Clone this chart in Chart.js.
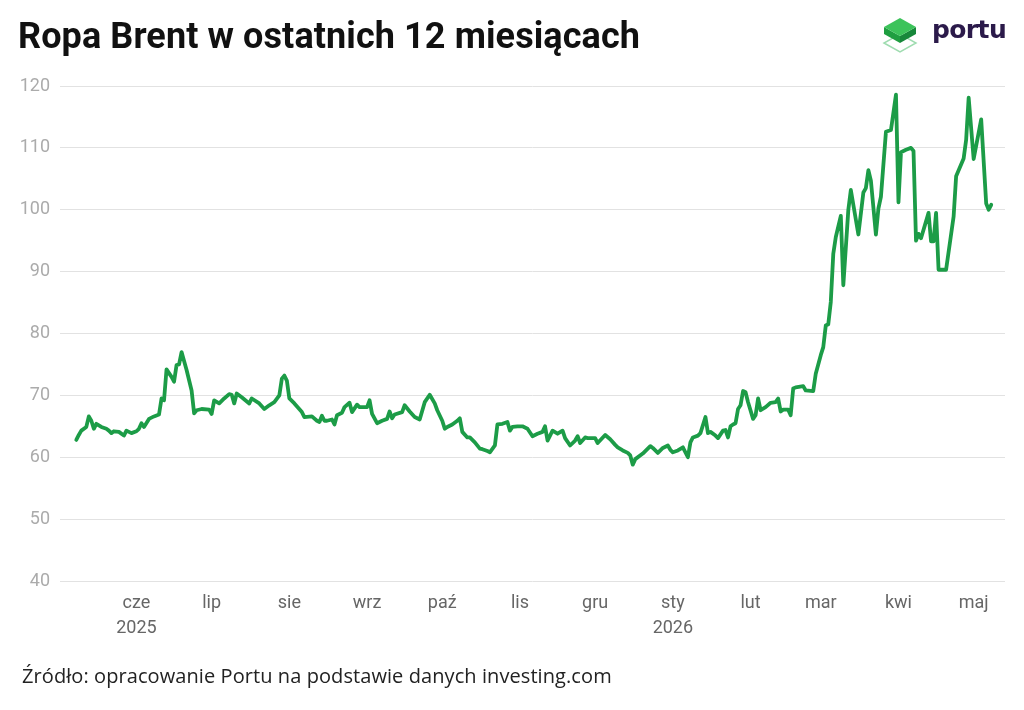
<!DOCTYPE html>
<html lang="pl">
<head>
<meta charset="utf-8">
<script src="https://cdn.jsdelivr.net/npm/chart.js@4.4.1/dist/chart.umd.min.js"></script>
<style>
  html, body { margin: 0; padding: 0; background: #fff; }
  body { width: 1024px; height: 710px; position: relative; overflow: hidden; }
  #wrap { position: absolute; left: 0; top: 0; width: 1024px; height: 710px; }
  h1 { position: absolute; left: 18px; top: 18px; margin: 0; font: 700 36px/1 Roboto, sans-serif; color: #111; letter-spacing: 0.1px; }
  .logo { position: absolute; left: 880px; top: 12px; }
  .logo span { position: absolute; left: 52px; top: 5px; font: 700 25px/1 "DejaVu Sans", sans-serif; color: #2b1a4a; letter-spacing: -0.6px; }
  .src { position: absolute; left: 22px; top: 666px; margin: 0; font: 20px/1 "Open Sans", sans-serif; color: #222; letter-spacing: 0.08px; }
</style>
</head>
<body>
<div id="wrap"><canvas id="brent"></canvas></div>
<h1>Ropa Brent w ostatnich 12 miesiącach</h1>
<div class="logo">
  <svg width="48" height="50" viewBox="0 0 48 50">
    <polygon points="4,31 20,40 36,31 20,22" fill="none" stroke="#9fdcb0" stroke-width="1.5"/>
    <polygon points="4,15 20,24 20,31 4,22" fill="#1f9e40"/>
    <polygon points="20,24 36,15 36,22 20,31" fill="#17873a"/>
    <polygon points="4,15 20,6 36,15 20,24" fill="#3cc35a"/>
  </svg>
  <span>portu</span>
</div>
<p class="src">Źródło: opracowanie Portu na podstawie danych investing.com</p>
<script>
// days counted from 8 May 2025
const days = [
  0, 1, 2, 4, 5, 6, 7, 8, 10, 12,
  13, 14, 15, 17, 19, 20, 22, 24, 25, 26,
  27, 29, 31, 33, 34, 35, 36, 38, 39, 40,
  41, 42, 44, 46, 47, 48, 50, 53, 54, 55,
  57, 59, 61, 62, 63, 64, 66, 69, 70, 73,
  75, 77, 79, 81, 82, 83, 84, 85, 87, 90,
  91, 94, 96, 97, 98, 99, 100, 102, 103, 104,
  106, 107, 109, 110, 112, 113, 116, 117, 118, 120,
  122, 124, 125, 126, 127, 130, 131, 133, 135, 137,
  139, 141, 143, 144, 146, 147, 148, 150, 152, 153,
  154, 156, 157, 159, 161, 162, 164, 165, 167, 168,
  170, 172, 173, 174, 176, 178, 180, 182, 184, 186,
  187, 188, 190, 192, 194, 195, 197, 199, 200, 201,
  203, 204, 207, 208, 211, 213, 215, 216, 218, 220,
  221, 222, 223, 226, 228, 229, 230, 232, 234, 236,
  237, 238, 240, 242, 244, 245, 246, 248, 249, 251,
  252, 253, 255, 256, 258, 259, 260, 261, 262, 263,
  264, 265, 266, 267, 268, 270, 271, 272, 273, 275,
  277, 279, 280, 281, 282, 284, 285, 286, 287, 290,
  291, 294, 295, 297, 298, 299, 300, 301, 302, 303,
  305, 306, 308, 309, 312, 314, 315, 316, 317, 319,
  320, 321, 323, 325, 327, 328, 329, 331, 333, 334,
  335, 336, 337, 340, 341, 342, 343, 344, 347, 350,
  351, 354, 355, 356, 358, 361, 363, 364, 365
];
// Brent, USD per barrel
const prices = [
  62.8, 63.6, 64.3, 64.9, 66.6, 65.9, 64.6, 65.4, 64.9, 64.6,
  64.3, 63.9, 64.2, 64.1, 63.5, 64.3, 63.9, 64.2, 64.6, 65.5,
  64.9, 66.2, 66.6, 66.9, 69.5, 69.2, 74.2, 73.0, 72.2, 74.9,
  75.0, 77.0, 74.1, 70.8, 67.1, 67.6, 67.8, 67.7, 67.0, 69.2,
  68.7, 69.5, 70.2, 70.1, 68.7, 70.3, 69.7, 68.7, 69.5, 68.7,
  67.8, 68.4, 68.9, 70.0, 72.7, 73.2, 72.4, 69.5, 68.7, 67.3,
  66.5, 66.6, 65.9, 65.7, 66.7, 65.9, 65.9, 66.1, 65.3, 66.8,
  67.2, 68.1, 68.8, 67.3, 68.5, 68.1, 68.1, 69.2, 67.0, 65.5,
  65.9, 66.2, 67.4, 66.3, 66.9, 67.3, 68.4, 67.4, 66.5, 66.1,
  68.9, 70.1, 68.7, 67.6, 65.9, 64.6, 64.9, 65.3, 65.9, 66.3,
  64.1, 63.2, 63.2, 62.4, 61.4, 61.3, 61.0, 60.8, 61.9, 65.3,
  65.4, 65.7, 64.3, 64.9, 65.0, 65.0, 64.6, 63.4, 63.8, 64.1,
  65.0, 62.7, 64.3, 63.8, 64.3, 63.1, 61.9, 62.7, 63.4, 62.3,
  63.2, 63.1, 63.1, 62.3, 63.6, 62.9, 62.0, 61.6, 61.1, 60.7,
  60.3, 58.8, 59.7, 60.6, 61.4, 61.8, 61.5, 60.7, 61.5, 61.9,
  61.2, 60.8, 61.1, 61.6, 60.0, 62.4, 63.2, 63.5, 63.9, 66.5,
  63.9, 64.1, 63.5, 63.1, 64.3, 64.4, 63.2, 65.0, 65.3, 65.5,
  67.8, 68.4, 70.7, 70.5, 68.9, 66.2, 66.8, 69.5, 67.6, 68.1,
  68.8, 68.9, 69.5, 67.4, 67.7, 67.7, 66.8, 71.1, 71.3, 71.5,
  70.8, 70.7, 73.5, 76.5, 77.8, 81.3, 81.5, 85.1, 92.9, 95.6,
  99.0, 87.8, 100.0, 103.2, 96.0, 102.8, 103.5, 106.4, 104.7, 96.0,
  100.2, 102.1, 112.6, 112.9, 118.6, 101.2, 109.3, 109.7, 110.0, 109.5,
  95.0, 96.1, 95.4, 99.5, 94.9, 94.9, 99.5, 90.3, 90.3, 98.9,
  105.4, 108.3, 111.3, 118.1, 108.2, 114.6, 101.0, 100.0, 100.8
];

const tickDates = ['2025-06-01', '2025-07-01', '2025-08-01', '2025-09-01', '2025-10-01', '2025-11-01',
                   '2025-12-01', '2026-01-01', '2026-02-01', '2026-03-01', '2026-04-01', '2026-05-01'];
const tickLabels = [['cze', '2025'], 'lip', 'sie', 'wrz', 'paź', 'lis', 'gru', ['sty', '2026'], 'lut', 'mar', 'kwi', 'maj'];
const yTicks = [40, 50, 60, 70, 80, 90, 100, 110, 120];

const start = Date.parse('2025-05-08');
const tickDays = tickDates.map(d => (Date.parse(d) - start) / 86400000);

const ctx = document.getElementById('brent').getContext('2d');
const chart = new Chart(ctx, {
  type: 'line',
  data: {
    datasets: [{
      data: days.map((d, i) => ({ x: d, y: prices[i] })),
      borderColor: '#1c9c47',
      borderWidth: 3.8,
      pointRadius: 0,
      tension: 0,
      borderJoinStyle: 'round',
      borderCapStyle: 'round'
    }]
  },
  options: {
    responsive: true,
    maintainAspectRatio: false,
    animation: false,
    layout: { padding: { top: 86, right: 19, bottom: 69, left: 0 } },
    plugins: { legend: { display: false }, tooltip: { enabled: false } },
    scales: {
      x: {
        type: 'linear',
        min: -6.5,
        max: 370.5,
        grid: { display: false, drawTicks: false },
        border: { display: false },
        afterBuildTicks: s => { s.ticks = tickDays.map(v => ({ value: v })); },
        afterFit: s => { s.height = 60; },
        ticks: {
          autoSkip: false,
          maxRotation: 0,
          minRotation: 0,
          padding: 10,
          color: '#666',
          font: { family: 'Roboto', size: 18, lineHeight: 1.4 },
          callback: v => tickLabels[tickDays.indexOf(v)]
        }
      },
      y: {
        min: yTicks[0],
        max: yTicks[yTicks.length - 1],
        grid: { color: '#e2e2e2', lineWidth: 1, drawTicks: false },
        border: { display: false },
        afterFit: s => { s.width = 60; },
        ticks: {
          stepSize: 10,
          padding: 10,
          color: '#ababab',
          font: { family: 'Roboto', size: 18 }
        }
      }
    }
  }
});
</script>
</body>
</html>
